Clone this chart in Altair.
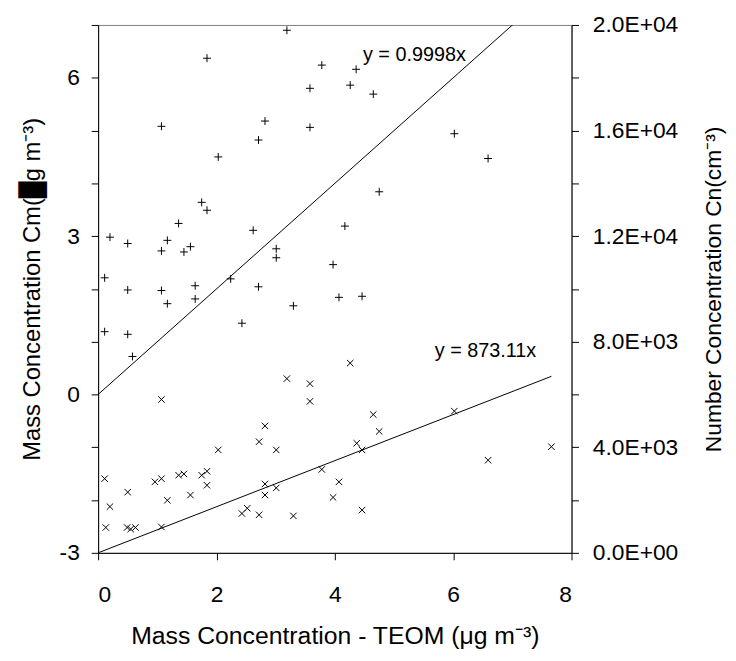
import altair as alt
import pandas as pd

# ---- data ----
plus_x = [3.19, 1.84, 3.78, 4.36, 4.26, 3.58, 4.65, 2.82, 1.07, 3.58, 6.02, 2.71, 2.03, 6.59,
          4.75, 1.75, 1.84, 1.36, 4.17, 2.62, 0.20, 1.17, 0.50, 1.56, 3.01, 1.07, 1.45, 3.01,
          3.97, 0.11, 2.24, 1.64, 2.71, 0.50, 1.07, 4.46, 4.07, 1.64, 1.17, 3.30, 2.43, 0.11,
          0.50, 0.58]
plus_y = [6.90, 6.37, 6.24, 6.16, 5.86, 5.80, 5.69, 5.18, 5.08, 5.06, 4.94, 4.82, 4.50, 4.47,
          3.84, 3.64, 3.49, 3.24, 3.19, 3.11, 2.98, 2.92, 2.86, 2.80, 2.76, 2.72, 2.70, 2.59,
          2.46, 2.21, 2.19, 2.06, 2.04, 1.98, 1.97, 1.86, 1.84, 1.81, 1.72, 1.68, 1.35, 1.19,
          1.14, 0.72]

cross_x = [4.26, 3.19, 3.58, 3.58, 1.07, 6.02, 4.65, 2.82, 4.75, 2.72, 4.37, 7.66, 3.01, 2.03,
           4.46, 6.59, 3.78, 1.84, 1.45, 1.36, 1.75, 0.11, 1.07, 0.96, 4.07, 2.82, 1.84, 3.01,
           0.50, 1.56, 2.82, 3.97, 1.17, 0.20, 2.52, 4.46, 2.43, 2.72, 3.30, 0.13, 0.49, 0.55,
           0.63, 1.07]
cross_n = [7190, 6600, 6410, 5740, 5810, 5370, 5240, 4810, 4600, 4210, 4150, 4020, 3900, 3900,
           3900, 3510, 3160, 3090, 2990, 2940, 2940, 2810, 2810, 2690, 2690, 2610, 2560, 2460,
           2300, 2190, 2190, 2100, 1990, 1750, 1690, 1620, 1490, 1440, 1400, 960, 960, 900,
           960, 980]

fit_x = [0.0, 7.66]
mass_slope = 0.9998
number_slope = 873.11
mass_label = "y = 0.9998x"
number_label = "y = 873.11x"

x_ticks = [0, 2, 4, 6, 8]
left_ticks = list(range(-3, 8))
right_ticks = list(range(0, 20001, 2000))

# ---- layout / style ----
FONT = "Liberation Sans"
W, H = 478, 533
FS = 23

plus_df = pd.DataFrame({"x": plus_x, "y": plus_y})
cross_df = pd.DataFrame({"x": cross_x, "n": cross_n})
mass_fit = pd.DataFrame({"x": fit_x, "y": [mass_slope * v for v in fit_x]})
num_fit = pd.DataFrame({"x": fit_x, "n": [number_slope * v for v in fit_x]})
mass_lab = pd.DataFrame({"x": [4.475], "y": [6.43], "t": [mass_label]})
num_lab = pd.DataFrame({"x": [5.69], "n": [7660], "t": [number_label]})

xscale = alt.Scale(domain=[0, 8], nice=False, zero=False)
xaxis = alt.Axis(values=x_ticks, title="Mass Concentration - TEOM (\u03bcg m\u207b\u00b3)",
                 labelPadding=24, titleX=W / 2, titleY=92, titleBaseline="alphabetic",
                 titleAlign="center", titleFontSize=25)

yl_scale = alt.Scale(domain=[-3, 7], nice=False, zero=False)
yl_axis = alt.Axis(values=left_ticks, orient="left",
                   labelExpr="datum.value % 3 == 0 ? '' + datum.value : ''",
                   title="Mass Concentration Cm(\u2588g m\u207b\u00b3)",
                   labelPadding=12, titleX=-66, titleY=H / 2, titleAngle=270,
                   titleBaseline="middle", titleAlign="center", titleFontSize=24)

yr_scale = alt.Scale(domain=[0, 20000], nice=False, zero=False)
yr_axis = alt.Axis(values=right_ticks, orient="right",
                   labelExpr="datum.value % 4000 == 0 ? replace(upper(format(datum.value, '.1e')), 'E+', 'E+0') : ''",
                   title="Number Concentration Cn(cm\u207b\u00b3)",
                   labelPadding=14, titleX=143, titleY=H / 2, titleAngle=270,
                   titleBaseline="middle", titleAlign="center")

plus_shape = "M-1,0L1,0M0,-1L0,1"
cross_shape = "M-1,-1L1,1M1,-1L-1,1"

X = alt.X("x:Q", scale=xscale, axis=xaxis)
YL = alt.Y("y:Q", scale=yl_scale, axis=yl_axis)
YR = alt.Y("n:Q", scale=yr_scale, axis=yr_axis)

pts_plus = alt.Chart(plus_df).mark_point(
    shape=plus_shape, filled=False, stroke="black", strokeWidth=1, size=64, opacity=1
).encode(x=X, y=YL)
line_m = alt.Chart(mass_fit).mark_line(color="black", strokeWidth=1, clip=True).encode(x=X, y=YL)
txt_m = alt.Chart(mass_lab).mark_text(
    align="left", baseline="middle", font=FONT, fontSize=20, color="black"
).encode(x=X, y=YL, text="t:N")

pts_cross = alt.Chart(cross_df).mark_point(
    shape=cross_shape, filled=False, stroke="black", strokeWidth=1, size=42, opacity=1
).encode(x=X, y=YR)
line_n = alt.Chart(num_fit).mark_line(color="black", strokeWidth=1, clip=True).encode(x=X, y=YR)
txt_n = alt.Chart(num_lab).mark_text(
    align="left", baseline="middle", font=FONT, fontSize=20, color="black"
).encode(x=X, y=YR, text="t:N")

left = alt.layer(pts_plus, line_m, txt_m)
right = alt.layer(pts_cross, line_n, txt_n)

chart = alt.layer(left, right).resolve_scale(y="independent").properties(
    width=W, height=H,
    padding={"left": 91, "top": 14, "right": 158, "bottom": 98},
    autosize=alt.AutoSizeParams(type="none"),
    background="white",
).configure_view(
    stroke="#808080", strokeWidth=1
).configure_axis(
    grid=False, domainColor="black", tickColor="black", labelColor="black",
    titleColor="black", labelFont=FONT, titleFont=FONT, labelFontSize=FS,
    titleFontSize=FS, titleFontWeight="normal", tickSize=7, domainWidth=1, tickWidth=1,
)

chart.save("out.html", embed_options={"renderer": "svg", "actions": False})
